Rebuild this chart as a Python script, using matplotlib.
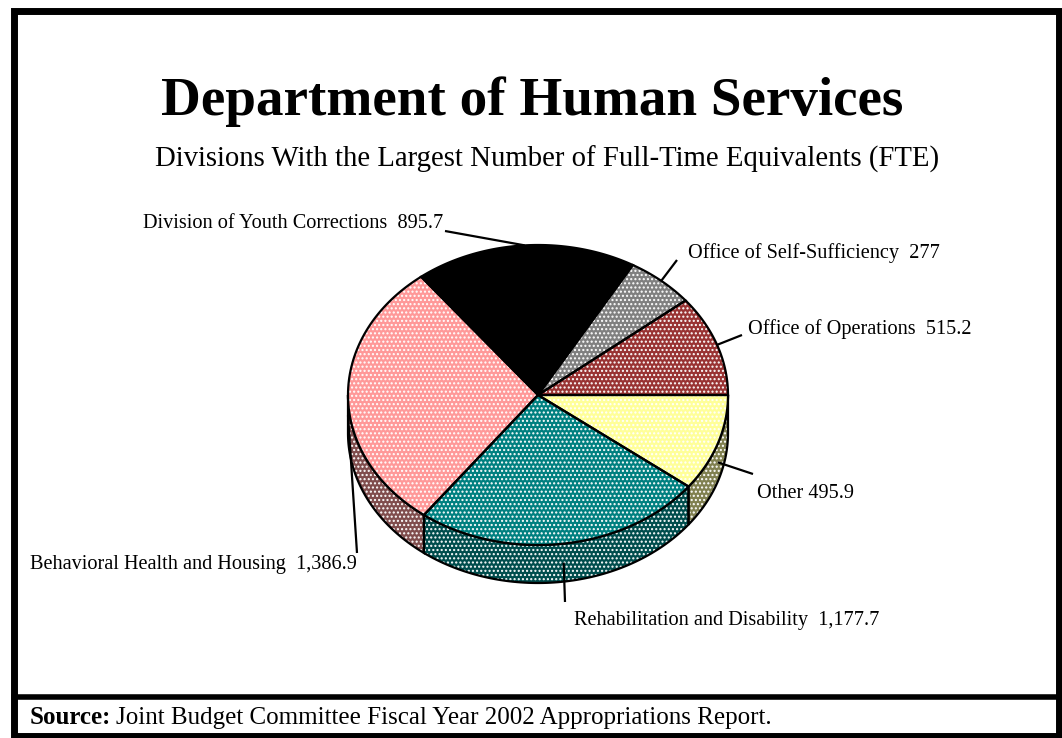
import numpy as np
import matplotlib.pyplot as plt
from matplotlib.patches import Polygon, Rectangle

plt.rcParams['font.family'] = ['Liberation Serif', 'DejaVu Serif']
plt.rcParams['hatch.linewidth'] = 1.0

# slices, counter-clockwise from 3 o'clock
divisions = ["Office of Operations", "Office of Self-Sufficiency",
             "Division of Youth Corrections", "Behavioral Health and Housing",
             "Rehabilitation and Disability", "Other"]
fte = [515.2, 277, 895.7, 1386.9, 1177.7, 495.9]
label_sep = ["  ", "  ", "  ", "  ", "  ", " "]

top_colors = ["#993333", "#808080", "#000000", "#FF9999", "#008080", "#FFFF99"]
side_colors = ["#4d1a1a", "#404040", "#000000", "#804d4d", "#004d4d", "#808050"]
hatches = ["....", "....", None, "....", "....", "...."]

# where each label sits (left, baseline) and where its leader line starts
label_pos = [(748, 334), (688, 258), (143, 228), (30, 569), (574, 625), (757, 498)]
leader_end = [(742, 335), (677, 260), (445, 231), (357, 553), (565, 602), (753, 474)]

cx, cy, rx, ry, depth = 538, 395, 190, 150, 38


def arc(t0, t1, dy=0.0, n=80):
    t = np.radians(np.linspace(t0, t1, n))
    return np.column_stack([cx + rx * np.cos(t), cy - ry * np.sin(t) + dy])


def patch(ax, pts, color, hatch, z):
    if hatch:
        ax.add_patch(Polygon(pts, closed=True, facecolor=color, edgecolor="white",
                             hatch=hatch, lw=0, zorder=z))
    else:
        ax.add_patch(Polygon(pts, closed=True, facecolor=color, lw=0, zorder=z))
    ax.add_patch(Polygon(pts, closed=True, fill=False, edgecolor="black",
                         lw=1.6, zorder=z + 0.5))


fig = plt.figure(figsize=(10.62, 7.38), dpi=100)
ax = fig.add_axes([0, 0, 1, 1])
ax.set_xlim(0, 1062)
ax.set_ylim(738, 0)
ax.axis("off")

angles = np.concatenate([[0], np.cumsum(fte) / np.sum(fte) * 360])

# side walls of the front half
for i in range(len(fte)):
    a = max(angles[i], 180)
    b = min(angles[i + 1], 360)
    if b <= a:
        continue
    pts = np.vstack([arc(a, b), arc(b, a, depth)])
    patch(ax, pts, side_colors[i], hatches[i], 2)

# top faces
for i in range(len(fte)):
    pts = np.vstack([[cx, cy], arc(angles[i], angles[i + 1])])
    patch(ax, pts, top_colors[i], hatches[i], 4)

# labels and leader lines
for i, name in enumerate(divisions):
    mid = (angles[i] + angles[i + 1]) / 2
    ax_pt = arc(mid, mid, n=1)[0]
    if 180 < mid < 360:
        ax_pt[1] += depth / 2
    ex, ey = leader_end[i]
    ax.plot([ax_pt[0], ex], [ax_pt[1], ey], color="black", lw=1.6, zorder=6,
            solid_capstyle="butt")
    ax.text(label_pos[i][0], label_pos[i][1], f"{name}{label_sep[i]}{fte[i]:,}",
            fontsize=14.6, va="baseline", ha="left", zorder=7)

ax.text(532, 115, "Department of Human Services", fontsize=39.7,
        fontweight="bold", ha="center", va="baseline")
ax.text(547, 167, "Divisions With the Largest Number of Full-Time Equivalents (FTE)",
        fontsize=20.7, ha="center", va="baseline")

# outer frame and source strip
ax.add_patch(Rectangle((13.5, 11), 1045.5, 725, fill=False, edgecolor="black", lw=5))
ax.plot([13.5, 1059], [697, 697], color="black", lw=4)

src = ax.text(30, 724, "Source:", fontsize=18, fontweight="bold",
              ha="left", va="baseline")
renderer = fig.canvas.get_renderer()
bb = src.get_window_extent(renderer=renderer)
ax.text(30 + bb.width + 5, 724, "Joint Budget Committee Fiscal Year 2002 Appropriations Report.",
        fontsize=18, ha="left", va="baseline")

fig.savefig("out.png", dpi=100)
